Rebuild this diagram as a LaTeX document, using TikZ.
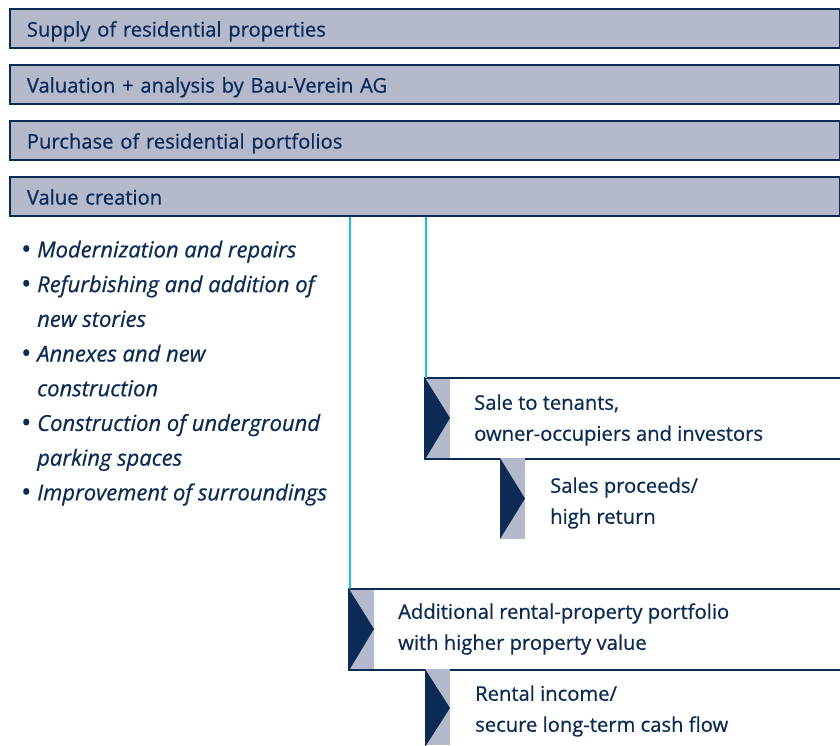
\documentclass[tikz,border=0pt]{standalone}
\usepackage{fontspec}
\setmainfont{Open Sans}[UprightFeatures={FakeBold=0.6}, ItalicFeatures={FakeBold=0.6}]
\begin{document}
\definecolor{navy}{HTML}{0B2A55}
\definecolor{panel}{HTML}{B4B9CC}
\definecolor{link}{HTML}{12C3F2}
\begin{tikzpicture}[x=1pt,y=-1pt,
  every node/.style={text=navy},
  bar/.style={draw=navy, line width=1.8pt, fill=panel, anchor=north west,
    minimum width=830pt, minimum height=39pt, inner xsep=17pt, inner ysep=0pt,
    text height=19.4pt, text depth=3pt,
    text width=796pt, align=left, font=\fontsize{20.2}{24}\selectfont},
  stage/.style={draw=navy, line width=1.4pt, fill=white, anchor=north west,
    minimum height=80pt, inner sep=0pt},
  label/.style={anchor=west, align=left, inner sep=0pt,
    font=\fontsize{20.2}{31}\selectfont},
  strip/.style={fill=panel},
  wedge/.style={fill=navy},
  connector/.style={draw=link, line width=1.6pt}]
\useasboundingbox (0,0) rectangle (840,745);

% process bars
\node[bar] (supply)   at (9,8)   {Supply of residential properties};
\node[bar] (valuation) at (9,64) {Valuation + analysis by Bau-Verein AG};
\node[bar] (purchase) at (9,120) {Purchase of residential portfolios};
\node[bar] (value)    at (9,176) {Value creation};

% value-creation measures
\newcommand{\bul}{\makebox[16pt][l]{\raisebox{-1pt}{\fontsize{27}{27}\selectfont\textbullet}}}
\newcommand{\nobul}{\makebox[16pt][l]{}}
\node[anchor=north west, align=left, inner sep=0pt,
  font=\fontsize{22}{34.7}\selectfont] (measures) at (21,240.5) {%
  \bul\textit{Modernization and repairs}\\
  \bul\textit{Refurbishing and addition of}\\
  \nobul\textit{new stories}\\
  \bul\textit{Annexes and new}\\
  \nobul\textit{construction}\\
  \bul\textit{Construction of underground}\\
  \nobul\textit{parking spaces}\\
  \bul\textit{Improvement of surroundings}};

% sale branch
\node[stage, minimum width=415pt] (sale) at (425,378) {};
\fill[strip] (sale.north west) rectangle ++(25,80);
\fill[wedge] (sale.north west) -- ++(25,40) -- (sale.south west) -- cycle;
\draw[navy, line width=1.4pt] (sale.north west) rectangle (sale.south east);
\node[label] (saletext) at (474,420) {Sale to tenants,\\owner-occupiers and investors};

\coordinate (proceedstop) at (500,458);
\fill[strip] (proceedstop) rectangle ++(25,81);
\fill[wedge] (proceedstop) -- ++(25,40.5) -- ++(-25,40.5) -- cycle;
\node[label] (proceeds) at (550,503) {Sales proceeds/\\high return};

% rental branch
\node[stage, minimum width=491pt] (rental) at (349,589) {};
\fill[strip] (rental.north west) rectangle ++(25,80);
\fill[wedge] (rental.north west) -- ++(25,40) -- (rental.south west) -- cycle;
\draw[navy, line width=1.4pt] (rental.north west) rectangle (rental.south east);
\node[label] (rentaltext) at (398,629) {Additional rental-property portfolio\\with higher property value};

\coordinate (incometop) at (425,669);
\fill[strip] (incometop) rectangle ++(25,76);
\fill[wedge] (incometop) -- ++(25,39) -- ++(-25,39) -- cycle;
\node[label] (income) at (475,711) {Rental income/\\secure long-term cash flow};

% connectors from value creation
\coordinate (rentalfoot) at ([xshift=1pt]rental.north west);
\coordinate (salefoot) at ([xshift=1pt]sale.north west);
\draw[connector] (value.south -| rentalfoot) -- (rentalfoot);
\draw[connector] (value.south -| salefoot) -- (salefoot);
\end{tikzpicture}
\end{document}
